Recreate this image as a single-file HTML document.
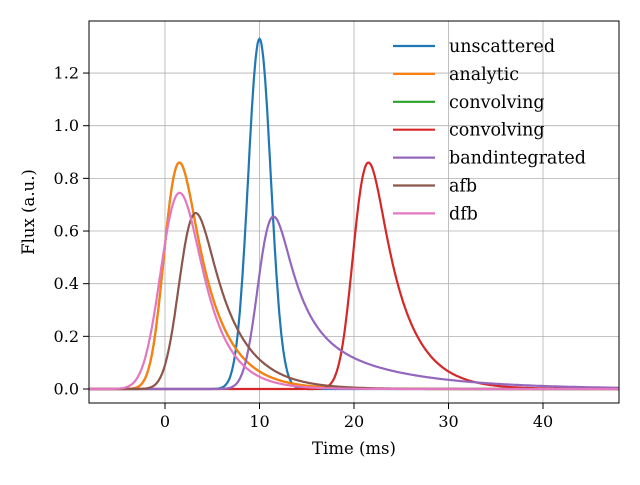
<!DOCTYPE html>
<html><head><meta charset="utf-8"><style>
html,body{margin:0;padding:0;background:#fff}
svg text{font-family:"DejaVu Serif","Liberation Serif",serif;fill:#000}
</style></head><body>
<svg id="s" width="640" height="480" xmlns="http://www.w3.org/2000/svg">
<defs><clipPath id="cp"><rect x="89" y="21" width="530" height="382"/></clipPath></defs>
<rect width="640" height="480" fill="#fff"/>
<g id="grid" stroke="#b0b0b0" stroke-width="0.8"></g>
<g id="curves" fill="none" stroke-width="2.2" clip-path="url(#cp)"></g>
<rect x="89" y="21" width="530" height="382" fill="none" stroke="#000" stroke-width="1"/>
<g id="ticks" stroke="#000" stroke-width="1"></g>
<g id="labels" font-size="16"></g>
<text x="354" y="454" font-size="16.5" text-anchor="middle">Time (ms)</text>
<text transform="translate(34,212) rotate(-90)" font-size="16.5" text-anchor="middle">Flux (a.u.)</text>
<g id="legend" font-size="17.5"></g>
</svg>
<script>
var X=function(t){return 165+t*9.45},Y=function(v){return 389-v*263.3};
var ns="http://www.w3.org/2000/svg";
function el(p,n,a,txt){var e=document.createElementNS(ns,n);for(var k in a)e.setAttribute(k,a[k]);if(txt!=null)e.textContent=txt;document.getElementById(p).appendChild(e);}
[0,10,20,30,40].forEach(function(t){var x=X(t);el("grid","line",{x1:x,x2:x,y1:21,y2:403});el("ticks","line",{x1:x,x2:x,y1:403,y2:409});el("labels","text",{x:x,y:427,"text-anchor":"middle"},String(t));});
[0,0.2,0.4,0.6,0.8,1.0,1.2].forEach(function(v){var y=Y(v);el("grid","line",{x1:89,x2:619,y1:y,y2:y});el("ticks","line",{x1:83,x2:89,y1:y,y2:y});el("labels","text",{x:79,y:y+5.5,"text-anchor":"end"},v.toFixed(1));});
function emg(mu,s,tau){var arr=[],dt=0.05;for(var t=-30;t<=50;t+=0.1){var sum=0;for(var u=0;u<60;u+=dt){var z=(t-u-mu)/s;sum+=Math.exp(-z*z/2)*Math.exp(-u/tau)*dt;}arr.push([t,sum]);}return arr;}
function gauss(mu,s){var a=[];for(var t=-10;t<=50;t+=0.1){var z=(t-mu)/s;a.push([t,Math.exp(-z*z/2)]);}return a;}
function norm(a,p){var m=0;a.forEach(function(q){m=Math.max(m,q[1])});return a.map(function(q){return[q[0],q[1]/m*p]});}
function draw(a,c){var d=a.map(function(q,i){return(i?"L":"M")+X(q[0]).toFixed(1)+","+Y(q[1]).toFixed(1)}).join("");el("curves","path",{d:d,stroke:c});}
var an=norm(emg(0.2,1.2,3.0),0.86);
var b1=norm(emg(10.1,1.2,2.2),1),b2=norm(emg(10.3,1.3,9),1);
var bi=norm(b1.map(function(q,i){return[q[0],0.45*q[1]+0.23*b2[i][1]]}),0.655);
draw(norm(gauss(10,1.2),1.33),"#1f77b4");
draw(an,"#2ca02c");
draw(an,"#ff7f0e");
draw(an.map(function(q){return[q[0]+20,q[1]]}),"#d62728");
draw(bi,"#9467bd");
draw(norm(emg(1.8,1.3,3.3),0.668),"#8c564b");
draw(norm(emg(0.1,1.6,2.6),0.745),"#e377c2");
var L=[["unscattered","#1f77b4"],["analytic","#ff7f0e"],["convolving","#2ca02c"],["convolving","#d62728"],["bandintegrated","#9467bd"],["afb","#8c564b"],["dfb","#e377c2"]];
L.forEach(function(l,i){var y=46+i*27.9;el("legend","line",{x1:393,x2:435,y1:y,y2:y,stroke:l[1],"stroke-width":2.2});el("legend","text",{x:449,y:y+6},l[0]);});
</script>
</body></html>
